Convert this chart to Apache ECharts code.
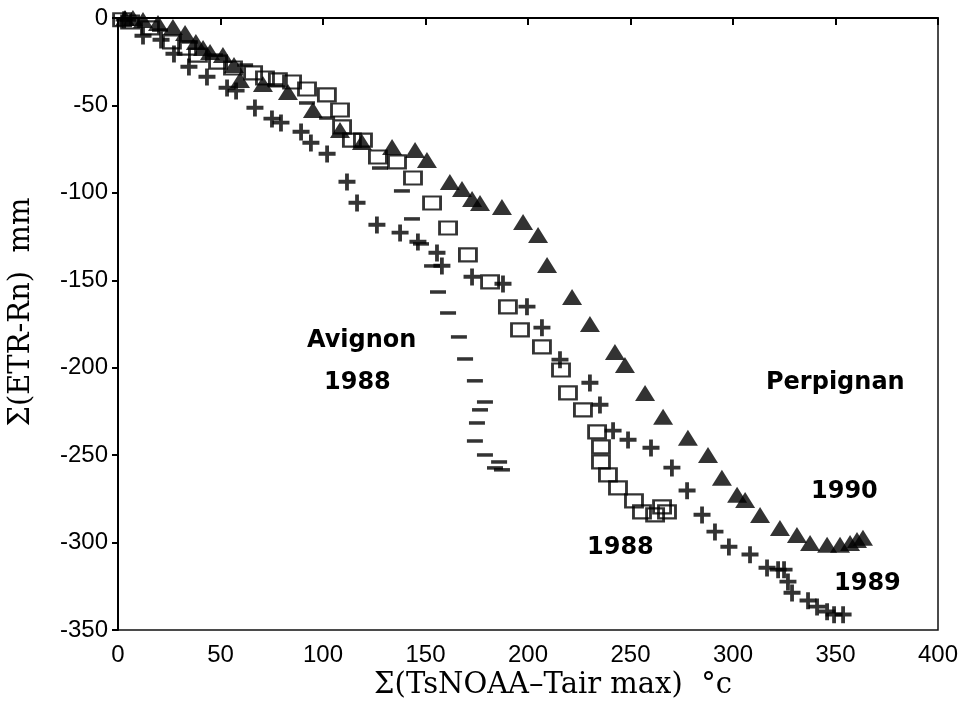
<!DOCTYPE html>
<html>
<head>
<meta charset="utf-8">
<script src="https://cdn.jsdelivr.net/npm/echarts@6/dist/echarts.min.js"></script>
<style>
  html, body { margin: 0; padding: 0; background: #fff; }
  #main { width: 968px; height: 705px; }
</style>
</head>
<body>
<div id="main"></div>
<script>
// Perpignan 1990 (filled triangles)
const perp1990 = [
  [3.4, 0], [7.3, 0], [12.2, -1.1], [19.5, -2.9], [26.8, -5.1], [32.7, -8.6],
  [38.0, -13.7], [41.5, -17.2], [44.9, -19.4], [51.2, -21.2], [56.6, -26.9],
  [59.5, -35.4], [70.7, -37.7], [82.9, -42.3], [95.1, -52.6], [108.3, -64.0],
  [119.0, -70.9], [133.7, -73.8], [144.9, -75.5], [150.7, -81.2], [161.9, -93.8],
  [167.8, -97.8], [172.7, -103.5], [176.6, -105.8], [187.3, -108.1], [197.6, -116.6],
  [204.9, -124.1], [209.3, -141.2], [221.5, -159.5], [230.2, -175.0], [242.4, -191.0],
  [247.3, -198.4], [257.1, -214.4], [265.9, -228.1], [278.0, -240.1], [287.8, -249.9],
  [294.6, -263.0], [302.0, -272.7], [305.9, -275.6], [313.2, -284.2], [322.9, -291.6],
  [331.2, -295.6], [337.6, -300.2], [345.9, -301.3], [352.2, -301.3], [357.1, -300.2],
  [360.5, -298.5], [363.4, -297.3]
];
// Perpignan 1989 (plus)
const perp1989 = [
  [3, -1], [12.2, -10.3], [21.0, -12.6], [27.3, -20.6], [34.6, -28.0], [43.4, -33.7],
  [53.2, -40.0], [57.6, -41.7], [66.8, -51.5], [75.1, -57.7], [79.5, -60.0],
  [89.3, -65.2], [94.1, -71.5], [102.0, -77.8], [111.7, -93.8], [116.6, -105.8],
  [126.3, -118.4], [137.6, -122.9], [146.3, -128.1], [155.6, -134.4], [158.0, -141.8],
  [172.7, -148.1], [187.8, -152.1], [199.5, -165.2], [206.8, -177.2], [215.6, -195.5],
  [230.2, -208.7], [235.1, -221.3], [241.5, -236.1], [248.8, -241.3], [260.0, -245.9],
  [270.2, -257.3], [277.6, -270.4], [284.9, -284.2], [291.2, -293.9], [298.0, -302.5],
  [308.3, -307.0], [316.6, -314.5], [322.0, -315.6], [324.9, -315.6], [326.8, -322.5],
  [328.8, -328.8], [336.6, -333.3], [341.0, -336.8], [345.9, -339.6], [349.3, -341.3],
  [353.7, -341.3]
];
// Perpignan 1988 (open squares)
const perp1988 = [
  [2, -1], [5.9, -2.3], [15.6, -5.7], [26.3, -13.7], [33.7, -17.2], [39.0, -21.2],
  [48.8, -25.2], [56.1, -28.6], [65.9, -31.4], [71.7, -34.3], [78.0, -35.4],
  [84.9, -36.6], [92.2, -40.6], [101.9, -44.0], [108.3, -52.6], [109.3, -62.3],
  [114.1, -69.8], [119.5, -69.8], [126.8, -79.5], [136.1, -82.3], [143.9, -91.5],
  [153.2, -105.8], [161.0, -120.1], [170.7, -135.5], [181.5, -150.9], [190.2, -165.2],
  [196.1, -178.4], [206.8, -188.1], [216.1, -201.3], [219.5, -214.4], [226.8, -224.1],
  [233.7, -236.7], [235.6, -245.3], [235.6, -253.9], [239.0, -261.3], [243.9, -268.7],
  [251.7, -276.2], [255.6, -282.4], [262.0, -284.2], [265.4, -279.6], [267.8, -282.4]
];
// Avignon 1988 (dashes)
const avig1988 = [
  [4.9, -1.1], [20.5, -6.9], [35.1, -13.7], [47.3, -21.2], [62.0, -26.9],
  [76.6, -38.3], [92.2, -48.6], [102.0, -57.2], [127.8, -85.8], [138.5, -98.9],
  [143.4, -114.9], [147.8, -129.2], [153.2, -141.8], [156.1, -156.7], [161.0, -168.7],
  [166.3, -182.4], [169.3, -195.0], [174.1, -207.5], [179.0, -219.6], [176.6, -224.1],
  [175.1, -231.6], [174.1, -241.9], [179.0, -249.9], [185.9, -253.9], [183.9, -257.3],
  [187.3, -258.4]
];

const labelFont = '"Liberation Sans", Arial, sans-serif';
const titleFont = '29px "DejaVu Serif", "Liberation Serif", serif';
const noteFont = 'bold 24px "DejaVu Sans", sans-serif';
const plusPath = 'path://M0,6.3 L17,6.3 L17,10.2 L0,10.2 Z M6.6,0 L10.4,0 L10.4,17 L6.6,17 Z';

const chart = echarts.init(document.getElementById('main'));

// small helper for the free text notes
function note(text, x, y) {
  return {
    type: 'text', x: x, y: y,
    style: { text: text, fill: '#000', font: noteFont, verticalAlign: 'middle' }
  };
}

const option = {
  backgroundColor: '#fff',
  animation: false,
  grid: {
    left: 118, right: 30, top: 18, bottom: 75,
    show: true, borderColor: '#111', borderWidth: 1.5
  },
  xAxis: {
    type: 'value', min: 0, max: 400, interval: 50,
    axisLine: { show: true, lineStyle: { color: '#000', width: 2 } },
    axisTick: { show: true, length: 7, lineStyle: { color: '#000', width: 2 } },
    axisLabel: { color: '#000', fontSize: 24, fontFamily: labelFont, margin: 13 },
    splitLine: { show: false }
  },
  yAxis: {
    type: 'value', min: -350, max: 0, interval: 50,
    axisLine: { show: true, lineStyle: { color: '#000', width: 2 } },
    axisTick: { show: true, length: 6, lineStyle: { color: '#000', width: 2 } },
    axisLabel: { color: '#000', fontSize: 24, fontFamily: labelFont, margin: 10 },
    splitLine: { show: false }
  },
  graphic: [
    { type: 'text', x: 553, y: 685, style: {
        text: 'Σ(TsNOAA–Tair max)  °c', fill: '#000', font: titleFont,
        align: 'center', verticalAlign: 'middle' } },
    { type: 'text', x: 21, y: 312, rotation: Math.PI / 2, style: {
        text: 'Σ(ETR-Rn)  mm', fill: '#000', font: titleFont,
        align: 'center', verticalAlign: 'middle' } },
    note('Avignon', 307, 341),
    note('1988', 324, 383),
    note('Perpignan', 766, 383),
    note('1990', 811, 492),
    note('1988', 587, 548),
    note('1989', 834, 584)
  ],
  series: [
    {
      name: 'Avignon 1988', type: 'scatter', data: avig1988,
      symbol: 'rect', symbolSize: [16, 3.5],
      itemStyle: { color: '#000' }
    },
    {
      name: 'Perpignan 1988', type: 'scatter', data: perp1988,
      symbol: 'rect', symbolSize: [17, 13],
      itemStyle: { color: 'rgba(255,255,255,0)', borderColor: '#000', borderWidth: 2.5 }
    },
    {
      name: 'Perpignan 1989', type: 'scatter', data: perp1989,
      symbol: plusPath, symbolSize: [17, 17],
      itemStyle: { color: '#000' }
    },
    {
      name: 'Perpignan 1990', type: 'scatter', data: perp1990,
      symbol: 'triangle', symbolSize: [20, 16],
      itemStyle: { color: '#000' }
    }
  ]
};

chart.setOption(option);
</script>
</body>
</html>
